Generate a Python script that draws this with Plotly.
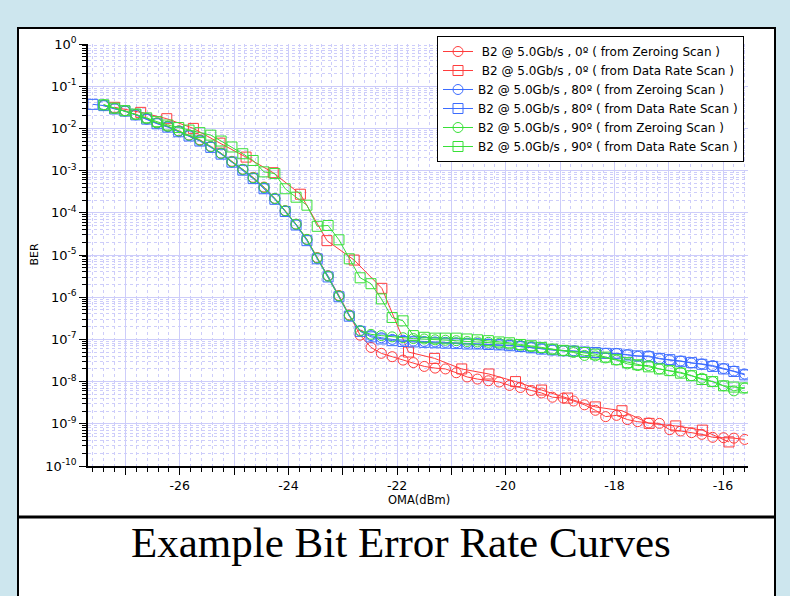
import plotly.graph_objects as go

# ---------------- data (OMA in dBm, BER stored as log10 values) ----------------
OMA_FINE = [
    -27.40, -27.20, -27.01, -26.81, -26.61, -26.42, -26.22, -26.02, -25.83, -25.63,
    -25.43, -25.24, -25.04, -24.84, -24.65, -24.45, -24.25, -24.06, -23.86, -23.66,
    -23.47, -23.27, -23.07, -22.88, -22.68, -22.48, -22.29, -22.09, -21.89, -21.70,
    -21.50, -21.30, -21.11, -20.91, -20.71, -20.52, -20.32, -20.12, -19.93, -19.73,
    -19.53, -19.34, -19.14, -18.94, -18.75, -18.55, -18.35, -18.16, -17.96, -17.76,
    -17.57, -17.37, -17.17, -16.98, -16.78, -16.58, -16.39, -16.19, -15.99, -15.80,
    -15.60]

BLUE_SQ_OMA = [-27.60] + OMA_FINE

RED_SQ_OMA = [
    -27.20, -26.72, -26.24, -25.75, -25.26, -24.78, -24.28, -23.78, -23.29, -22.79,
    -22.28, -21.79, -21.31, -20.81, -20.31, -19.82, -19.34, -18.86, -18.35, -17.86,
    -17.36, -16.87, -16.38, -15.89]

red_zero_log = [
    -1.45, -1.53, -1.58, -1.67, -1.77, -1.87, -1.95, -2.06, -2.16, -2.27,
    -2.43, -2.59, -2.78, -2.97, -3.16, -3.39, -3.66, -3.95, -4.27, -4.63,
    -5.06, -5.49, -5.96, -6.42, -6.90, -7.19, -7.33, -7.41, -7.49, -7.55,
    -7.64, -7.68, -7.70, -7.79, -7.89, -7.94, -7.98, -8.01, -8.09, -8.14,
    -8.21, -8.27, -8.37, -8.39, -8.46, -8.55, -8.68, -8.83, -8.80, -8.90,
    -8.95, -8.98, -8.99, -9.14, -9.17, -9.21, -9.25, -9.32, -9.33, -9.34,
    -9.37]

red_rate_log = [
    -1.50, -1.62, -1.77, -2.00, -2.35, -2.68, -3.05, -3.56, -4.66, -5.12,
    -5.79, -7.30, -7.45, -7.70, -7.82, -8.00, -8.20, -8.39, -8.60, -8.69,
    -8.99, -9.05, -9.15, -9.43]

blue_zero_log = [
    -1.46, -1.53, -1.59, -1.68, -1.78, -1.88, -1.96, -2.07, -2.17, -2.29,
    -2.44, -2.60, -2.80, -2.98, -3.18, -3.42, -3.67, -3.96, -4.28, -4.64,
    -5.08, -5.50, -5.98, -6.44, -6.79, -6.91, -6.96, -7.00, -7.02, -7.04,
    -7.05, -7.06, -7.07, -7.08, -7.09, -7.10, -7.11, -7.12, -7.14, -7.17,
    -7.19, -7.22, -7.25, -7.27, -7.27, -7.30, -7.32, -7.33, -7.33, -7.36,
    -7.40, -7.39, -7.46, -7.49, -7.51, -7.56, -7.58, -7.62, -7.69, -7.75,
    -7.82]

blue_rate_log = [
    -1.43,
    -1.46, -1.54, -1.59, -1.68, -1.78, -1.89, -1.97, -2.08, -2.18, -2.30,
    -2.45, -2.61, -2.80, -2.99, -3.19, -3.43, -3.68, -3.97, -4.29, -4.66,
    -5.09, -5.52, -5.99, -6.45, -6.81, -6.94, -6.99, -7.03, -7.05, -7.06,
    -7.07, -7.08, -7.09, -7.10, -7.11, -7.11, -7.12, -7.13, -7.15, -7.17,
    -7.20, -7.23, -7.25, -7.27, -7.28, -7.30, -7.31, -7.33, -7.34, -7.37,
    -7.39, -7.41, -7.45, -7.48, -7.52, -7.55, -7.59, -7.64, -7.70, -7.76,
    -7.84]

green_zero_log = [
    -1.44, -1.52, -1.58, -1.67, -1.76, -1.87, -1.95, -2.06, -2.16, -2.28,
    -2.43, -2.59, -2.79, -2.97, -3.17, -3.40, -3.66, -3.95, -4.27, -4.63,
    -5.07, -5.50, -5.97, -6.43, -6.80, -6.88, -6.91, -6.94, -6.96, -6.98,
    -6.99, -7.01, -7.02, -7.03, -7.05, -7.06, -7.07, -7.09, -7.11, -7.14,
    -7.17, -7.20, -7.23, -7.27, -7.31, -7.38, -7.39, -7.44, -7.49, -7.58,
    -7.62, -7.62, -7.70, -7.74, -7.78, -7.86, -7.92, -8.00, -8.10, -8.22,
    -8.15]

green_rate_log = [
    -1.44, -1.52, -1.58, -1.66, -1.75, -1.84, -1.92, -1.98, -2.04, -2.10,
    -2.16, -2.30, -2.44, -2.60, -2.76, -3.03, -3.07, -3.43, -3.63, -3.82,
    -4.32, -4.30, -4.64, -5.09, -5.54, -5.68, -6.04, -6.48, -6.56, -6.91,
    -6.95, -6.97, -6.97, -6.97, -6.99, -7.01, -7.03, -7.06, -7.08, -7.12,
    -7.15, -7.19, -7.23, -7.26, -7.28, -7.31, -7.35, -7.42, -7.48, -7.55,
    -7.60, -7.65, -7.70, -7.74, -7.80, -7.86, -7.95, -8.00, -8.10, -8.13,
    -8.15]

SERIES_NAMES = [
    "\u00a0B2 @ 5.0Gb/s , 0\u00ba ( from Zeroing Scan )",
    "\u00a0B2 @ 5.0Gb/s , 0\u00ba ( from Data Rate Scan )",
    "B2 @ 5.0Gb/s , 80\u00ba ( from Zeroing Scan )",
    "B2 @ 5.0Gb/s , 80\u00ba ( from Data Rate Scan )",
    "B2 @ 5.0Gb/s , 90\u00ba ( from Zeroing Scan )",
    "B2 @ 5.0Gb/s , 90\u00ba ( from Data Rate Scan )",
]

X_TICK_VALS = [-27, -26, -25, -24, -23, -22, -21, -20, -19, -18, -17, -16]
X_TICK_TEXT = ["", "-26", "", "-24", "", "-22", "", "-20", "", "-18", "", "-16"]
Y_DECADES = [0, -1, -2, -3, -4, -5, -6, -7, -8, -9, -10]

RED = "#ff3c3c"
BLUE = "#3c6cff"
GREEN = "#38e038"

# ---------------- figure ----------------
def ber(vals):
    return [10 ** v for v in vals]

series = [
    (OMA_FINE, red_zero_log, RED, "circle-open"),
    (RED_SQ_OMA, red_rate_log, RED, "square-open"),
    (OMA_FINE, blue_zero_log, BLUE, "circle-open"),
    (BLUE_SQ_OMA, blue_rate_log, BLUE, "square-open"),
    (OMA_FINE, green_zero_log, GREEN, "circle-open"),
    (OMA_FINE, green_rate_log, GREEN, "square-open"),
]

fig = go.Figure()
for (xs, ys, col, sym), name in zip(series, SERIES_NAMES):
    fig.add_trace(go.Scatter(
        x=xs, y=ber(ys), name=name, mode="lines+markers",
        line=dict(color=col, width=1),
        marker=dict(symbol=sym, size=10, color=col, line=dict(color=col, width=1)),
    ))

# plot-area pixel box: left 88, right 748, top 44, bottom 466
L, R, T, B = 88, 748, 44, 466
W, H = R - L, B - T
def px(xp):
    return (xp - L) / W
def py(yp):
    return (B - yp) / H

grid_col = "#cdcdfa"
minor_y = [m * 10 ** d for d in range(-10, 0) for m in range(2, 10)]

fig.update_layout(
    width=790, height=596,
    margin=dict(l=L, r=790 - R, t=T, b=596 - B),
    paper_bgcolor="#cde6ee",
    plot_bgcolor="white",
    font=dict(family="DejaVu Sans", color="black", size=12),
    showlegend=True,
    legend=dict(
        x=px(437), y=py(36), xanchor="left", yanchor="top",
        bgcolor="white", bordercolor="black", borderwidth=1,
        font=dict(family="DejaVu Sans", size=12, color="black"),
        tracegroupgap=0, itemwidth=30,
    ),
    xaxis=dict(
        range=[-27.69, -15.54],
        tickmode="array", tickvals=X_TICK_VALS, ticktext=X_TICK_TEXT,
        ticks="outside", ticklen=7, tickwidth=1, tickcolor="black",
        showline=True, linecolor="black", linewidth=1.5,
        showgrid=True, gridcolor=grid_col, gridwidth=1,
        zeroline=False, mirror=False,
        tickfont=dict(size=12.5),
        minor=dict(dtick=0.2, tick0=-27, ticks="outside", ticklen=4,
                   tickcolor="black", showgrid=True, gridcolor=grid_col,
                   griddash="dot", gridwidth=1),
    ),
    yaxis=dict(
        type="log", range=[-10, 0],
        tickmode="array", tickvals=[10 ** d for d in Y_DECADES],
        ticktext=["10<sup>%d</sup>" % d for d in Y_DECADES],
        ticks="outside", ticklen=7, tickwidth=1, tickcolor="black",
        showline=True, linecolor="black", linewidth=1.5,
        showgrid=True, gridcolor=grid_col, gridwidth=1,
        zeroline=False, mirror=False,
        tickfont=dict(size=13),
        minor=dict(tickmode="array", tickvals=minor_y, ticks="outside",
                   ticklen=4, tickcolor="black", showgrid=True,
                   gridcolor=grid_col, griddash="dot", gridwidth=1),
    ),
    shapes=[
        dict(type="rect", xref="paper", yref="paper",
             x0=px(18), x1=px(775), y0=py(640), y1=py(28),
             fillcolor="white", line=dict(color="black", width=2), layer="below"),
        dict(type="line", xref="paper", yref="paper",
             x0=px(18), x1=px(775), y0=py(517), y1=py(517),
             line=dict(color="black", width=3)),
    ],
    annotations=[
        dict(text="BER", xref="paper", yref="paper", x=px(25), y=py(255),
             textangle=-90, showarrow=False, font=dict(size=11)),
        dict(text="OMA(dBm)", xref="paper", yref="paper", x=px(419), y=py(509),
             showarrow=False, font=dict(size=11.5)),
        dict(text="Example Bit Error Rate Curves", xref="paper", yref="paper",
             x=px(401), y=py(568), showarrow=False,
             font=dict(family="Liberation Serif", size=43, color="black")),
    ],
)

fig.write_html("out.html",
               config={"displayModeBar": False},
               post_script="document.body.style.margin='0px';"
                           "document.body.style.padding='0px';")
